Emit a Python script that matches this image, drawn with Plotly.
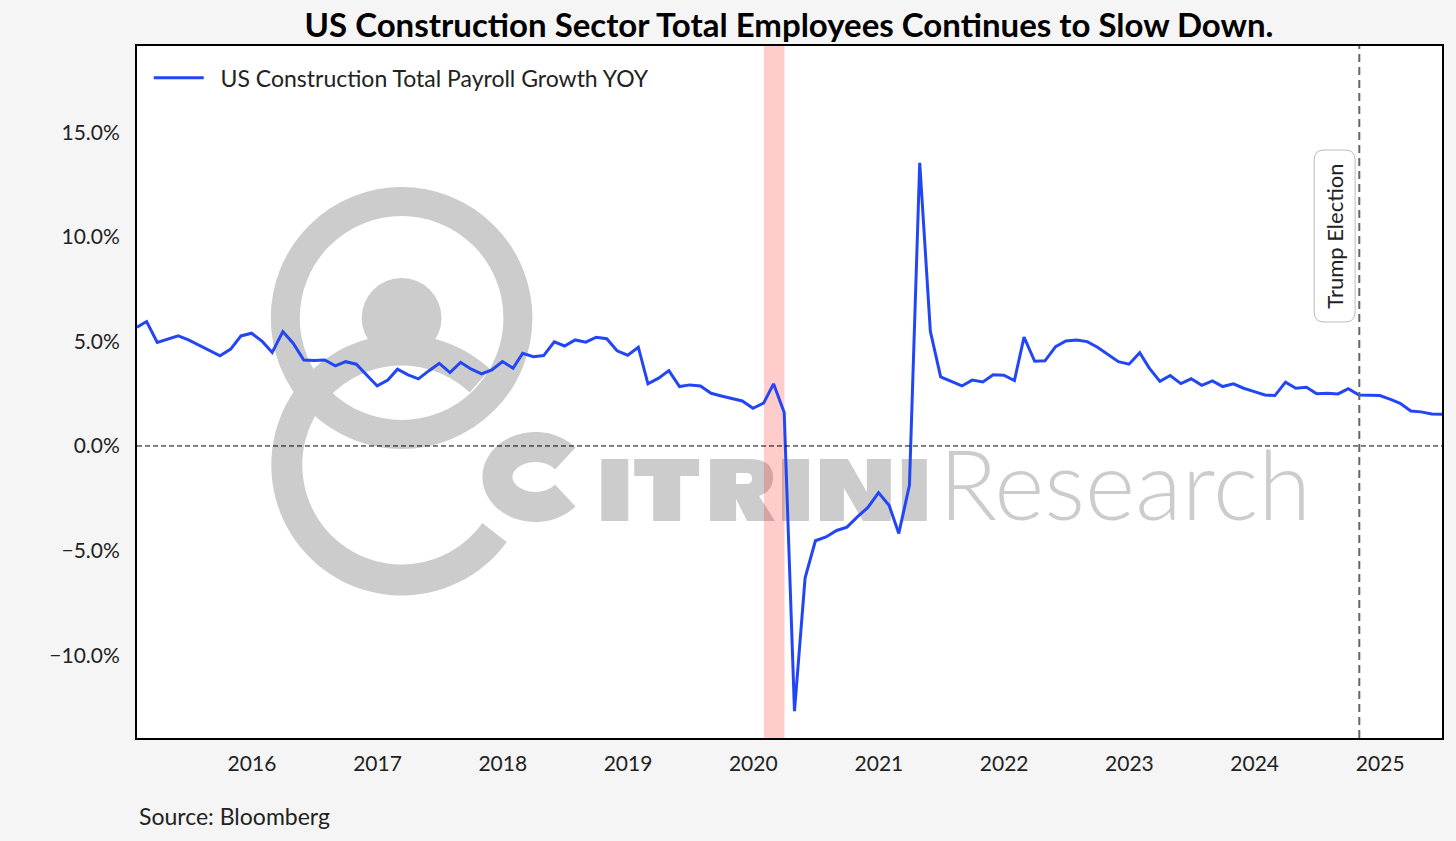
import numpy as np
import pandas as pd
import plotly.graph_objects as go

# US construction total payroll growth YoY (%), month-end, Jan 2015 .. Jun 2025
months = pd.date_range("2015-01-31", periods=126, freq="ME").strftime("%Y-%m-%d").tolist()
payroll_yoy = [
	5.68, 5.95, 4.95, 5.10, 5.26, 5.07, 4.82, 4.57, 4.31, 4.63, 5.26, 5.39,
	5.00, 4.47, 5.47, 4.91, 4.11, 4.09, 4.11, 3.83, 4.03, 3.91, 3.40, 2.87,
	3.15, 3.67, 3.40, 3.21, 3.60, 3.95, 3.51, 4.00, 3.68, 3.45, 3.64, 4.04,
	3.72, 4.43, 4.27, 4.32, 4.98, 4.78, 5.07, 4.96, 5.20, 5.13, 4.55, 4.34,
	4.72, 2.97, 3.24, 3.60, 2.84, 2.92, 2.87, 2.52, 2.39, 2.28, 2.15, 1.80,
	2.05, 2.97, 1.60, -12.68, -6.30, -4.53, -4.35, -4.04, -3.88, -3.38, -2.94, -2.23,
	-2.85, -4.18, -1.88, 13.54, 5.48, 3.30, 3.10, 2.87, 3.15, 3.06, 3.40, 3.38,
	3.13, 5.20, 4.05, 4.07, 4.75, 5.02, 5.06, 4.99, 4.72, 4.39, 4.03, 3.91,
	4.46, 3.72, 3.09, 3.37, 2.98, 3.21, 2.90, 3.11, 2.84, 2.97, 2.76, 2.60,
	2.44, 2.41, 3.05, 2.76, 2.81, 2.50, 2.52, 2.49, 2.74, 2.44, 2.41, 2.41,
	2.23, 2.04, 1.67, 1.63, 1.53, 1.52,
]

year_ticks = [f"{y}-01-01" for y in range(2016, 2026)]
year_labels = [str(y) for y in range(2016, 2026)]
pct_ticks = [-10, -5, 0, 5, 10, 15]
pct_labels = ["\u221210.0%", "\u22125.0%", "0.0%", "5.0%", "10.0%", "15.0%"]

recession = ("2020-02-01", "2020-04-01")
election_date = "2024-11-01"

FONT = "Lato"
W, H = 1456, 841
L, R, T, B = 137, 12, 46, 103
PW, PH = W - L - R, H - T - B


def fx(px):
	return (px - L) / PW


def fy(py):
	return (T + PH - py) / PH


def px_path(cmds):
	# cmds: list of (letter, [(x, y), ...]) in pixel space -> paper-space svg path
	out = []
	for c, pts in cmds:
		out.append(c + " ".join(f"{fx(a):.5f},{fy(b):.5f}" for a, b in pts))
	return " ".join(out)


def poly(pts):
	return px_path([("M", [pts[0]])] + [("L", [p]) for p in pts[1:]] + [("Z", [])])


fig = go.Figure()

fig.add_trace(go.Scatter(
	x=months, y=payroll_yoy,
	mode="lines",
	name="\u00a0\u00a0US Construction Total Payroll Growth YOY",
	line=dict(color="#2346f5", width=3),
))

# ---- watermark logo (drawn under the data) ----
wm = "#cccccc"
shapes = []


def wm_fill(path):
	shapes.append(dict(type="path", path=path, xref="paper", yref="paper", layer="below",
		fillcolor=wm, line=dict(width=0)))


def wm_stroke(path, width):
	shapes.append(dict(type="path", path=path, xref="paper", yref="paper", layer="below",
		line=dict(color=wm, width=width)))


def arc_pts(cx, cy, a, b, deg0, deg1, n=80):
	t = np.radians(np.linspace(deg0, deg1, n))
	return list(zip(cx + a * np.cos(t), cy - b * np.sin(t)))


def open_path(pts):
	return px_path([("M", [pts[0]])] + [("L", [p]) for p in pts[1:]])


cx, cy = 402, 318
shapes.append(dict(type="circle", xref="paper", yref="paper", layer="below",
	x0=fx(cx - 116.5), x1=fx(cx + 116.5), y0=fy(cy + 116.5), y1=fy(cy - 116.5),
	line=dict(color=wm, width=29)))
shapes.append(dict(type="circle", xref="paper", yref="paper", layer="below",
	x0=fx(cx - 40), x1=fx(cx + 40), y0=fy(cy + 40), y1=fy(cy - 40),
	fillcolor=wm, line=dict(width=0)))
wm_stroke(open_path(arc_pts(402, 465, 115, 115, 47, 324)), 31)

# CITRINI wordmark
top, bot = 459, 521
wm_stroke(open_path(arc_pts(536, 477, 38, 30, 38, 322, 60)), 30)                    # C
for x0, x1 in [(602, 629), (783, 810), (903, 928)]:                               # I I I
	wm_fill(poly([(x0, top), (x1, top), (x1, bot), (x0, bot)]))
wm_fill(poly([(635, top), (700, top), (700, 476), (681, 476), (681, bot),           # T
	(654, bot), (654, 476), (635, 476)]))
wm_fill(poly([(821, bot), (821, top), (849, top), (868, 492), (868, top),           # N
	(892, top), (892, bot), (864, bot), (845, 488), (845, bot)]))
r_outer = px_path([                                                                  # R
	("M", [(711, bot)]), ("L", [(711, top)]), ("L", [(750, top)]),
	("C", [(767, top), (774, 466), (774, 477)]),
	("C", [(774, 487), (769, 493), (760, 496)]),
	("L", [(776, bot)]), ("L", [(748, bot)]), ("L", [(737, 499)]),
	("L", [(737, bot)]), ("Z", []),
	("M", [(737, 473)]), ("L", [(737, 484)]), ("L", [(747, 484)]),
	("C", [(751, 484), (753, 482), (753, 478.5)]),
	("C", [(753, 475), (751, 473), (747, 473)]), ("Z", []),
])
wm_fill(r_outer)

# recession band
shapes.append(dict(type="rect", xref="x", yref="paper", layer="below",
	x0=recession[0], x1=recession[1], y0=0, y1=1,
	fillcolor="rgba(255,0,0,0.2)", line=dict(width=0)))
# zero line
shapes.append(dict(type="line", xref="paper", yref="y", x0=0, x1=1, y0=0, y1=0,
	line=dict(color="black", width=1, dash="5px,3px")))
# election line
shapes.append(dict(type="line", xref="x", yref="paper", x0=election_date, x1=election_date,
	y0=0, y1=1, line=dict(color="#666666", width=2, dash="8px,5px")))

# rounded box behind the election label
bx0, bx1, by0, by1, rr = fx(1316), fx(1357), fy(150), fy(322), 10
rx, ry = rr / PW, rr / PH
box = (f"M{bx0 + rx},{by0} L{bx1 - rx},{by0} Q{bx1},{by0} {bx1},{by0 - ry} "
	f"L{bx1},{by1 + ry} Q{bx1},{by1} {bx1 - rx},{by1} L{bx0 + rx},{by1} "
	f"Q{bx0},{by1} {bx0},{by1 + ry} L{bx0},{by0 - ry} Q{bx0},{by0} {bx0 + rx},{by0} Z")
shapes.append(dict(type="path", path=box, xref="paper", yref="paper", layer="above",
	fillcolor="white", line=dict(color="#bbbbbb", width=1)))

fig.update_layout(shapes=shapes)

fig.add_annotation(
	xref="paper", yref="paper", x=fx(938), y=fy(483),
	xanchor="left", yanchor="middle", showarrow=False,
	text="Research",
	font=dict(family=FONT, size=96, weight=300, color="rgba(0,0,0,0.2)"),
)

fig.add_annotation(
	xref="paper", yref="paper", x=fx(1336.5), y=fy(236),
	text="Trump Election", textangle=-90, showarrow=False,
	xanchor="center", yanchor="middle",
	font=dict(family=FONT, size=22, color="#222222"),
)

fig.add_annotation(
	xref="paper", yref="paper", x=0, y=fy(816),
	xanchor="left", yanchor="middle", showarrow=False,
	text="Source: Bloomberg",
	font=dict(family=FONT, size=23, color="#222222"),
)

fig.update_layout(
	width=W, height=H,
	margin=dict(l=L, r=R, t=T, b=B),
	paper_bgcolor="#f5f5f5",
	plot_bgcolor="white",
	title=dict(
		text="<b>US Construction Sector Total Employees Continues to Slow Down.</b>",
		x=fx(790), xref="paper", xanchor="center",
		y=1 - 25 / H, yanchor="middle",
		font=dict(family=FONT, size=33, color="black"),
	),
	showlegend=True,
	legend=dict(
		x=0.009, y=0.985, xanchor="left", yanchor="top",
		bgcolor="rgba(0,0,0,0)", itemwidth=50,
		font=dict(family=FONT, size=23, color="#222222"),
	),
)

fig.update_xaxes(
	range=[months[0], months[-1]],
	tickvals=year_ticks, ticktext=year_labels,
	showgrid=False, zeroline=False,
	showline=True, mirror=True, linecolor="black", linewidth=2,
	ticks="outside", ticklen=6, tickcolor="rgba(0,0,0,0)",
	tickfont=dict(family=FONT, size=21, color="#222222"),
)

fig.update_yaxes(
	range=[-13.96, 19.12],
	tickvals=pct_ticks, ticktext=pct_labels,
	showgrid=False, zeroline=False,
	showline=True, mirror=True, linecolor="black", linewidth=2,
	ticks="outside", ticklen=11, tickcolor="rgba(0,0,0,0)",
	tickfont=dict(family=FONT, size=21, color="#222222"),
)

fig.write_html("out.html", config={"displayModeBar": False},
	post_script="document.body.style.margin='0px';")
